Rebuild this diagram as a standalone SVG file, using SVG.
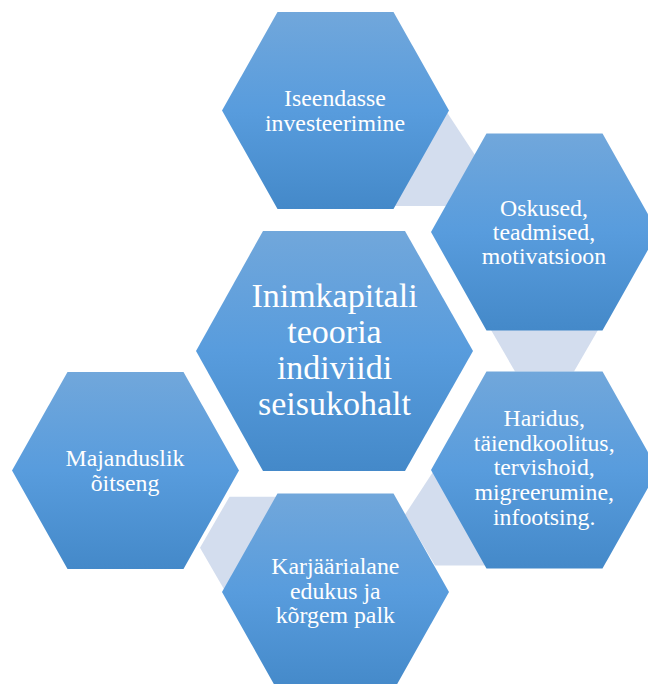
<svg xmlns="http://www.w3.org/2000/svg" width="648" height="684" viewBox="0 0 648 684">
<defs>
<linearGradient id="blueGrad" x1="0" y1="0" x2="0" y2="1">
<stop offset="0" stop-color="#71a7db"/>
<stop offset="0.5" stop-color="#589cdd"/>
<stop offset="1" stop-color="#4489c9"/>
</linearGradient>
<polygon id="hexS" points="-113.5,0 -58,-98.5 58,-98.5 113.5,0 58,98.5 -58,98.5"/>
<polygon id="hexC" points="-59,0 -29.5,-51 29.5,-51 59,0 29.5,51 -29.5,51"/>
</defs>
<style>
.node { fill: url(#blueGrad); }
.conn { fill: #d3ddee; }
.lbl { font-family: "Liberation Serif", "Times New Roman", serif; fill: #ffffff; text-anchor: middle; font-size: 23.8px; }
.big { font-size: 34px; }
</style>
<g id="connectors">
<polygon class="conn" transform="translate(412,155)" points="-59,0 -29.5,-51 29.5,-51 63,0 36,51 -29.5,51"/>
<use href="#hexC" class="conn" transform="translate(544.5,320.5)"/>
<polygon class="conn" transform="translate(468,514.6)" points="-63,0 -29.5,-51 29.5,-51 59,0 29.5,51 -33,51"/>
<use href="#hexC" class="conn" transform="translate(259,547.7)"/>
</g>
<g id="center">
<polygon class="node" points="196,351 263,231 405,231 473,351 405,471 263,471"/>
<text class="lbl big" x="334.5" y="307">Inimkapitali</text>
<text class="lbl big" x="334.5" y="343">teooria</text>
<text class="lbl big" x="334.5" y="379">indiviidi</text>
<text class="lbl big" x="334.5" y="415">seisukohalt</text>
</g>
<g id="n1">
<use href="#hexS" class="node" transform="translate(335.5,110.5)"/>
<text class="lbl" x="335" y="106">Iseendasse</text>
<text class="lbl" x="335" y="130.5">investeerimine</text>
</g>
<g id="n2">
<use href="#hexS" class="node" transform="translate(544.5,232)"/>
<text class="lbl" x="544" y="216">Oskused,</text>
<text class="lbl" x="544" y="240">teadmised,</text>
<text class="lbl" x="544" y="264.3">motivatsioon</text>
</g>
<g id="n3">
<use href="#hexS" class="node" transform="translate(544.5,470)"/>
<text class="lbl" x="544.2" y="426">Haridus,</text>
<text class="lbl" x="544.2" y="450.7">täiendkoolitus,</text>
<text class="lbl" x="544.2" y="475.3">tervishoid,</text>
<text class="lbl" x="544.2" y="500">migreerumine,</text>
<text class="lbl" x="544.2" y="524.7">infootsing.</text>
</g>
<g id="n4">
<use href="#hexS" class="node" transform="translate(335.5,592)"/>
<text class="lbl" x="335.3" y="574">Karjäärialane</text>
<text class="lbl" x="335.3" y="598.5">edukus ja</text>
<text class="lbl" x="335.3" y="623">kõrgem palk</text>
</g>
<g id="n5">
<use href="#hexS" class="node" transform="translate(125.5,470.5)"/>
<text class="lbl" x="125" y="466">Majanduslik</text>
<text class="lbl" x="125" y="490.5">õitseng</text>
</g>
</svg>
